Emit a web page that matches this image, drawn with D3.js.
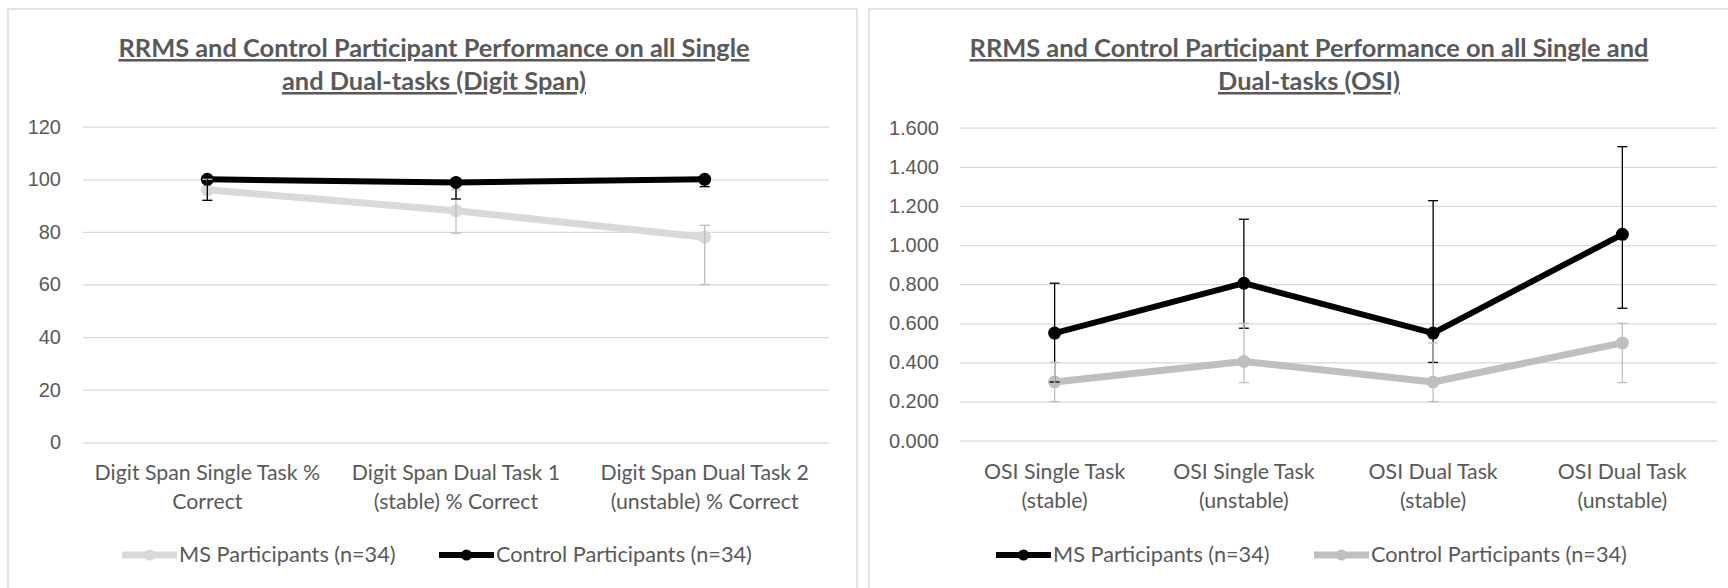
<!DOCTYPE html>
<html>
<head>
<meta charset="utf-8">
<script src="https://cdn.jsdelivr.net/npm/d3@7"></script>
<style>
  body { margin: 0; background: #fff; }
  svg { display: block; font-family: Lato, "Open Sans", sans-serif; }
  .tick text { fill: #595959; }
</style>
</head>
<body>
<svg id="chart" width="1728" height="588"></svg>
<script>
// left chart: digit span
const spanCategories = [
  ['Digit Span Single Task %', 'Correct'],
  ['Digit Span Dual Task 1', '(stable) % Correct'],
  ['Digit Span Dual Task 2', '(unstable) % Correct'],
]
const spanMS = [96, 88, 78]
const spanMSLow = [92, 79.5, 60]
const spanMSHigh = [100, 96, 82.5]
const spanControl = [100, 98.8, 100]
const spanControlLow = [92, 92.5, 97.2]
const spanControlHigh = [100, 98.8, 100]
const spanTicks = [0, 20, 40, 60, 80, 100, 120]

// right chart: OSI
const osiCategories = [
  ['OSI Single Task', '(stable)'],
  ['OSI Single Task', '(unstable)'],
  ['OSI Dual Task', '(stable)'],
  ['OSI Dual Task', '(unstable)'],
]
const osiMS = [0.55, 0.805, 0.55, 1.055]
const osiMSLow = [0.30, 0.575, 0.40, 0.677]
const osiMSHigh = [0.805, 1.132, 1.227, 1.503]
const osiControl = [0.30, 0.405, 0.30, 0.50]
const osiControlLow = [0.20, 0.297, 0.20, 0.297]
const osiControlHigh = [0.40, 0.60, 0.50, 0.60]
const osiTicks = [0, 0.2, 0.4, 0.6, 0.8, 1.0, 1.2, 1.4, 1.6]

const svg = d3.select('#chart')

function drawPanel (opts) {
  const g = svg.append('g')

  // panel frame
  g.append('rect')
    .attr('x', opts.frame[0])
    .attr('y', opts.frame[1])
    .attr('width', opts.frame[2])
    .attr('height', opts.frame[3])
    .attr('fill', 'none')
    .attr('stroke', '#d9d9d9')
    .attr('stroke-width', 1.5)

  // title
  const title = g.append('text')
    .attr('x', opts.titleX)
    .attr('y', 57)
    .attr('text-anchor', 'middle')
    .attr('fill', '#595959')
    .style('font-size', '25.4px')
    .style('font-weight', 'bold')
    .style('text-decoration', 'underline')
  opts.title.forEach((line, i) => {
    title.append('tspan')
      .attr('x', opts.titleX)
      .attr('dy', i === 0 ? 0 : 33)
      .text(line)
  })

  const x = d3.scaleBand()
    .domain(opts.categories.map((d, i) => i))
    .range([opts.left, opts.right])

  const y = d3.scaleLinear()
    .domain([opts.ticks[0], opts.ticks[opts.ticks.length - 1]])
    .range([opts.bottom, opts.top])

  // grid + y labels
  const yAxis = g.append('g')
    .attr('transform', `translate(${opts.left},0)`)
    .call(d3.axisLeft(y)
      .tickValues(opts.ticks)
      .tickSize(-(opts.right - opts.left))
      .tickPadding(opts.labelPad)
      .tickFormat(opts.format))
  yAxis.select('.domain').remove()
  yAxis.selectAll('.tick line')
    .attr('stroke', '#d9d9d9')
    .attr('stroke-width', 1.3)
  yAxis.selectAll('.tick text')
    .style('font-size', '20px')

  // category labels
  const cats = g.append('g')
    .selectAll('text')
    .data(opts.categories)
    .join('text')
    .attr('text-anchor', 'middle')
    .attr('fill', '#595959')
    .style('font-size', '21.3px')
    .attr('transform', (d, i) => `translate(${x(i) + x.bandwidth() / 2},${opts.bottom + 38})`)
  cats.selectAll('tspan')
    .data((d) => d)
    .join('tspan')
    .attr('x', 0)
    .attr('dy', (d, i) => (i === 0 ? 0 : 29))
    .text((d) => d)

  const cx = (i) => x(i) + x.bandwidth() / 2

  // series
  opts.series.forEach((s) => {
    const line = d3.line()
      .x((d, i) => cx(i))
      .y((d) => y(d))

    g.append('path')
      .datum(s.values)
      .attr('fill', 'none')
      .attr('stroke', s.color)
      .attr('stroke-width', s.width)
      .attr('stroke-linejoin', 'round')
      .attr('d', line)

    g.append('g')
      .selectAll('circle')
      .data(s.values)
      .join('circle')
      .attr('cx', (d, i) => cx(i))
      .attr('cy', (d) => y(d))
      .attr('r', 6.5)
      .attr('fill', s.color)
  })

  // error bars on top
  opts.series.forEach((s) => {
    const eb = g.append('g')
      .attr('stroke', s.barColor)
      .attr('stroke-width', 1.3)
    s.values.forEach((v, i) => {
      const lo = s.low[i]
      const hi = s.high[i]
      eb.append('line')
        .attr('x1', cx(i)).attr('x2', cx(i))
        .attr('y1', y(lo)).attr('y2', y(hi))
      if (lo < v) {
        eb.append('line')
          .attr('x1', cx(i) - 5).attr('x2', cx(i) + 5)
          .attr('y1', y(lo)).attr('y2', y(lo))
      }
      if (hi > v) {
        eb.append('line')
          .attr('x1', cx(i) - 5).attr('x2', cx(i) + 5)
          .attr('y1', y(hi)).attr('y2', y(hi))
      }
    })
  })

  // legend
  const leg = g.append('g')
  opts.series.forEach((s, k) => {
    const lx = opts.legendX[k]
    leg.append('line')
      .attr('x1', lx).attr('x2', lx + 55)
      .attr('y1', 555).attr('y2', 555)
      .attr('stroke', s.color)
      .attr('stroke-width', s.width)
    leg.append('circle')
      .attr('cx', lx + 27.5)
      .attr('cy', 555)
      .attr('r', 5.5)
      .attr('fill', s.color)
    leg.append('text')
      .attr('x', lx + 57)
      .attr('y', 562)
      .attr('fill', '#595959')
      .style('font-size', '21.7px')
      .text(s.name)
  })
}

drawPanel({
  frame: [8, 9, 849, 600],
  title: ['RRMS and Control Participant Performance on all Single', 'and Dual-tasks (Digit Span)'],
  titleX: 434,
  left: 83,
  right: 829,
  top: 126.7,
  bottom: 442.3,
  labelPad: 22,
  ticks: spanTicks,
  format: d3.format('d'),
  categories: spanCategories,
  legendX: [122, 439],
  series: [
    { name: 'MS Participants (n=34)', values: spanMS, low: spanMSLow, high: spanMSHigh, color: '#d9d9d9', barColor: '#bfbfbf', width: 7 },
    { name: 'Control Participants (n=34)', values: spanControl, low: spanControlLow, high: spanControlHigh, color: '#000', barColor: '#000', width: 6 },
  ],
})

drawPanel({
  frame: [869, 9, 900, 600],
  title: ['RRMS and Control Participant Performance on all Single and', 'Dual-tasks (OSI)'],
  titleX: 1309,
  left: 960,
  right: 1717,
  top: 127.7,
  bottom: 440.7,
  labelPad: 21,
  ticks: osiTicks,
  format: d3.format('.3f'),
  categories: osiCategories,
  legendX: [996, 1314],
  series: [
    { name: 'MS Participants (n=34)', values: osiMS, low: osiMSLow, high: osiMSHigh, color: '#000', barColor: '#000', width: 6 },
    { name: 'Control Participants (n=34)', values: osiControl, low: osiControlLow, high: osiControlHigh, color: '#bfbfbf', barColor: '#bfbfbf', width: 7 },
  ],
})
</script>
</body>
</html>
